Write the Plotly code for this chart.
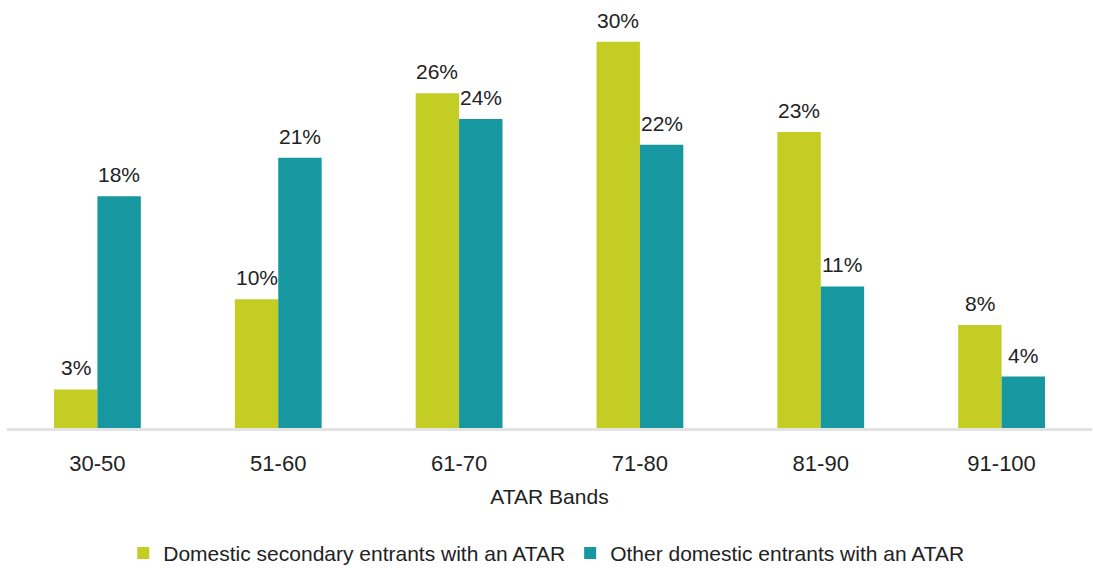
import plotly.graph_objects as go

categories = ["30-50", "51-60", "61-70", "71-80", "81-90", "91-100"]
secondary = [3, 10, 26, 30, 23, 8]
other = [18, 21, 24, 22, 11, 4]
series_names = ["Domestic secondary entrants with an ATAR", "Other domestic entrants with an ATAR"]
colors = ["#C3CD24", "#17979F"]

FONT = "Liberation Sans, Arial, sans-serif"

fig = go.Figure()
for name, vals, col in zip(series_names, [secondary, other], colors):
    fig.add_trace(go.Bar(
        x=categories, y=vals, name=name,
        marker=dict(color=col, line=dict(width=0)),
    ))

# value labels above each bar
plot_w = 1093 - 7 - 1
slot = plot_w / len(categories)
bar_w = slot * (1 - 0.52) / 2
for shift, vals in zip([-bar_w / 2, bar_w / 2], [secondary, other]):
    for c, v in zip(categories, vals):
        fig.add_annotation(
            x=c, y=v, text=f"{v}%", showarrow=False,
            xshift=shift, yshift=8, yanchor="bottom", xanchor="center",
            font=dict(size=21, color="#222222", family=FONT),
        )

fig.update_layout(
    width=1093, height=568,
    margin=dict(l=7, r=1, t=0, b=140, autoexpand=False),
    barmode="group", bargap=0.52, bargroupgap=0,
    plot_bgcolor="white", paper_bgcolor="white",
    font=dict(family=FONT, size=21, color="#222222"),
    xaxis=dict(
        title=dict(text="ATAR Bands", font=dict(size=21), standoff=14),
        showline=True, linecolor="#e3e3e3", linewidth=3,
        ticks="", showgrid=False, tickfont=dict(size=22),
        ticklabelstandoff=14, automargin=False,
    ),
    yaxis=dict(range=[0, 33.25], visible=False, showgrid=False, automargin=False),
    legend=dict(
        orientation="h", x=0.497, xanchor="center", y=-0.245, yanchor="top",
        font=dict(size=21), itemwidth=30, traceorder="normal",
    ),
    showlegend=True,
)

fig.write_html("out.html", config={"displayModeBar": False},
               post_script="document.body.style.margin='0';")
